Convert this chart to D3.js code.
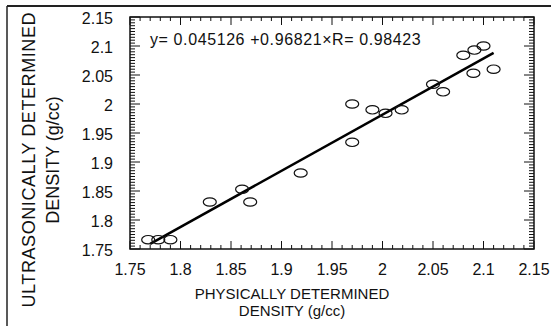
<!DOCTYPE html>
<html>
<head>
<meta charset="utf-8">
<script src="https://cdn.jsdelivr.net/npm/d3@7"></script>
<style>
  body { margin: 0; background: #fff; }
  text { font-family: "Liberation Sans", Arial, sans-serif; fill: #111; }
</style>
</head>
<body>
<svg width="551" height="326"></svg>
<script>
const svg = d3.select("svg");

// data
const physical = [1.768, 1.778, 1.79, 1.829, 1.861, 1.869, 1.919, 1.97, 1.97, 1.99, 2.003, 2.019, 2.05, 2.06, 2.08, 2.091, 2.1, 2.09, 2.11];
const ultrasonic = [1.766, 1.766, 1.766, 1.831, 1.853, 1.831, 1.881, 1.934, 2.0, 1.99, 1.984, 1.99, 2.034, 2.021, 2.084, 2.093, 2.1, 2.053, 2.06];
const xTicks = [1.75, 1.8, 1.85, 1.9, 1.95, 2, 2.05, 2.1, 2.15];
const yTicks = [1.75, 1.8, 1.85, 1.9, 1.95, 2, 2.05, 2.1, 2.15];
const fitA = 0.045126, fitB = 0.96821, fitR = 0.98423;
const fitRange = [1.77, 2.11];

const x = d3.scaleLinear().domain([1.75, 2.15]).range([130, 534]);
const y = d3.scaleLinear().domain([1.75, 2.15]).range([249, 17]);

// outer frame
svg.append("line").attr("x1", 7).attr("y1", 6).attr("x2", 551).attr("y2", 6)
  .attr("stroke", "#222").attr("stroke-width", 2);
svg.append("line").attr("x1", 7).attr("y1", 6).attr("x2", 7).attr("y2", 326)
  .attr("stroke", "#222").attr("stroke-width", 1.5);

// ticks (inward on all four sides)
const xMinor = d3.range(1.75, 2.1501, 0.01);
const yMinor = d3.range(1.75, 2.1501, 0.005);
const tk = svg.append("g").attr("stroke", "#111").attr("stroke-width", 1);
xMinor.forEach(v => {
  const major = xTicks.some(t => Math.abs(t - v) < 1e-6);
  const len = major ? 8 : 4;
  tk.append("line").attr("x1", x(v)).attr("x2", x(v)).attr("y1", 249).attr("y2", 249 - len);
  tk.append("line").attr("x1", x(v)).attr("x2", x(v)).attr("y1", 17).attr("y2", 17 + len);
});
yMinor.forEach(v => {
  const major = yTicks.some(t => Math.abs(t - v) < 1e-6);
  const len = major ? 10 : 5;
  tk.append("line").attr("y1", y(v)).attr("y2", y(v)).attr("x1", 130).attr("x2", 130 + len);
  tk.append("line").attr("y1", y(v)).attr("y2", y(v)).attr("x1", 534).attr("x2", 534 - len);
});

// plot box
svg.append("rect").attr("x", 130).attr("y", 17).attr("width", 404).attr("height", 232)
  .attr("fill", "none").attr("stroke", "#111").attr("stroke-width", 1.5);

// tick labels
svg.append("g").selectAll("text").data(xTicks).join("text")
  .attr("x", d => x(d)).attr("y", 275)
  .attr("text-anchor", "middle").attr("font-size", 16)
  .text(d => d3.format("")(d));
svg.append("g").selectAll("text").data(yTicks).join("text")
  .attr("x", 113).attr("y", d => y(d) + 7)
  .attr("text-anchor", "end").attr("font-size", 16)
  .text(d => d3.format("")(d));

// regression line
svg.append("line")
  .attr("x1", x(fitRange[0])).attr("y1", y(fitA + fitB * fitRange[0]))
  .attr("x2", x(fitRange[1])).attr("y2", y(fitA + fitB * fitRange[1]))
  .attr("stroke", "#000").attr("stroke-width", 2.5);

// points
svg.append("g").selectAll("ellipse").data(physical).join("ellipse")
  .attr("cx", d => x(d)).attr("cy", (d, i) => y(ultrasonic[i]))
  .attr("rx", 6.5).attr("ry", 4.2)
  .attr("fill", "none").attr("stroke", "#111").attr("stroke-width", 1.2);

// equation
svg.append("text").attr("x", 150).attr("y", 45).attr("font-size", 16)
  .attr("letter-spacing", 0.6)
  .text("y= " + fitA + " +" + fitB + "×R= " + fitR);

// axis titles
svg.append("text").attr("x", 292).attr("y", 299).attr("text-anchor", "middle").attr("font-size", 15)
  .text("PHYSICALLY DETERMINED");
svg.append("text").attr("x", 292).attr("y", 316).attr("text-anchor", "middle").attr("font-size", 15)
  .text("DENSITY (g/cc)");
const yt = svg.append("g").attr("transform", "translate(0,160) rotate(-90)");
yt.append("text").attr("x", 0).attr("y", 35).attr("text-anchor", "middle").attr("font-size", 18)
  .attr("textLength", 295).attr("lengthAdjust", "spacing")
  .text("ULTRASONICALLY DETERMINED");
yt.append("text").attr("x", 0).attr("y", 59).attr("text-anchor", "middle").attr("font-size", 18)
  .text("DENSITY (g/cc)");
</script>
</body>
</html>
